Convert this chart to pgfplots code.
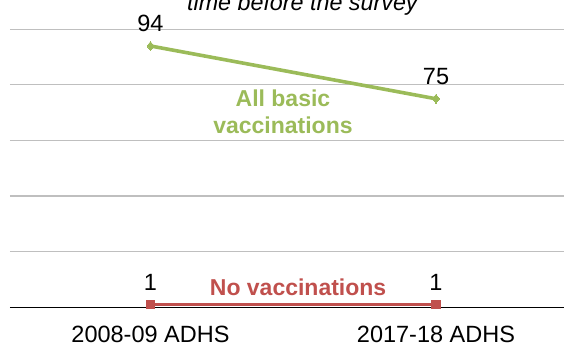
\documentclass[border=0pt]{standalone}
\usepackage{pgfplots}
\pgfplotsset{compat=1.18}
\usepackage{fontspec}
\setmainfont{Liberation Sans}
\definecolor{vgreen}{HTML}{9BBB59}
\definecolor{vred}{HTML}{C0504D}
\definecolor{gridgray}{HTML}{BFBFBF}
\begin{document}
\begin{tikzpicture}[x=1pt,y=1pt]
\begin{axis}[
  at={(10pt,37.7pt)}, anchor=south west,
  scale only axis,
  width=568.75pt, height=278pt,
  xmin=-0.4921, xmax=1.5,
  ymin=0, ymax=100,
  axis x line=bottom,
  axis y line=left,
  x axis line style={black, line width=0.9pt, -},
  y axis line style={draw=none},
  xtick={0,1},
  xticklabels={2008-09 ADHS,2017-18 ADHS},
  major tick length=0pt,
  xticklabel style={font=\fontsize{23.5}{27}\selectfont, anchor=base, yshift=-35.2pt},
  ytick={20,40,60,80,100},
  yticklabels={},
  ymajorgrids,
  grid style={gridgray, line width=1.2pt},
  clip=false,
  /pgf/number format/assume math mode=true,
  nodes near coords,
  every node near coord/.append style={font=\fontsize{23.5}{27}\selectfont, text=black, anchor=base, yshift=14pt},
]
\addplot[vred, line width=3.3pt, mark=square*, mark size=4.3pt, mark options={solid, line width=0pt}] coordinates {(0,1) (1,1)};
\addplot[vgreen, line width=3.6pt, mark=diamond*, mark size=4.5pt, mark options={solid, line width=0pt}] coordinates {(0,94) (1,75)};
\node[font=\fontsize{23}{27}\selectfont\bfseries, text=vgreen, anchor=base] at (axis cs:0.464,72.2) {All basic};
\node[font=\fontsize{23}{27}\selectfont\bfseries, text=vgreen, anchor=base] at (axis cs:0.464,62.6) {vaccinations};
\node[font=\fontsize{23}{27}\selectfont\bfseries, text=vred, anchor=base] at (axis cs:0.517,4.4) {No vaccinations};
\node[font=\fontsize{23.3}{27}\selectfont\itshape, text=black, anchor=base] at (axis cs:0.532,106.6) {time before the survey};
\end{axis}
\pgfresetboundingbox
\useasboundingbox (0pt,0pt) rectangle (564pt,345pt);
\end{tikzpicture}
\end{document}
